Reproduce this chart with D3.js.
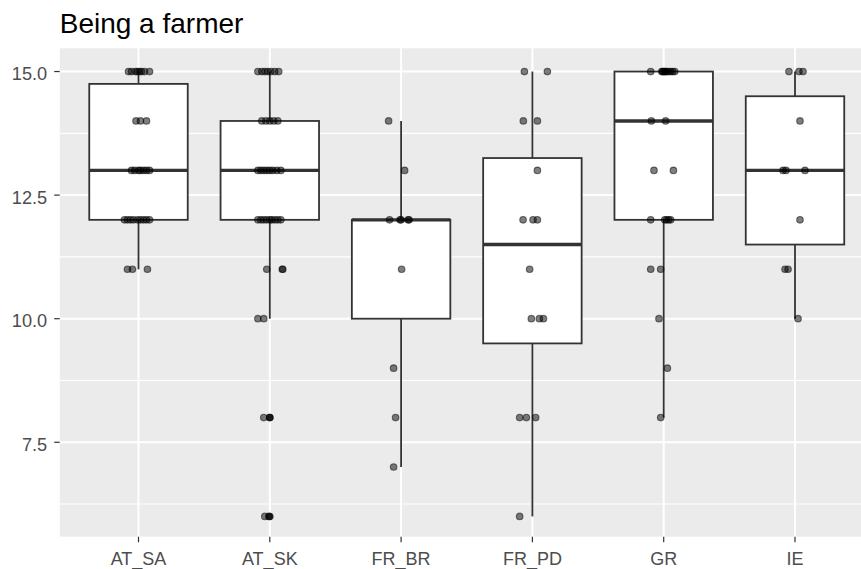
<!DOCTYPE html>
<html>
<head>
<meta charset="utf-8">
<script src="https://cdn.jsdelivr.net/npm/d3@7"></script>
<style>
  html, body { margin: 0; padding: 0; background: #ffffff; }
  svg { display: block; }
  text { font-family: "Liberation Sans", Arial, sans-serif; }
</style>
</head>
<body>
<script>
// ---------------- data ----------------
const title = "Being a farmer";
const categories = ["AT_SA", "AT_SK", "FR_BR", "FR_PD", "GR", "IE"];
const yTicks = [7.5, 10, 12.5, 15];
const yTickLabels = ["7.5", "10.0", "12.5", "15.0"];
const yMinorTicks = [6.25, 8.75, 11.25, 13.75];

// boxplot statistics (per category)
const boxQ1 = [12, 12, 10, 9.5, 12, 11.5];
const boxMedian = [13, 13, 12, 11.5, 14, 13];
const boxQ3 = [14.75, 14, 12, 13.25, 15, 14.5];
const whiskerLow = [11, 10, 7, 6, 8, 10];
const whiskerHigh = [15, 15, 14, 15, 15, 15];

// boxplot outliers
const outlierGroup = ["AT_SK", "AT_SK"];
const outlierValue = [8, 6];

// individual scores and their horizontal jitter (in category units)
const scoresAT_SA = [15,15,15,15,15,15,15,15, 14,14,14, 13,13,13,13,13,13,13, 12,12,12,12,12,12,12,12,12, 11,11,11];
const jitterAT_SA = [-0.076,-0.053,-0.023,-0.008,0.008,0.023,0.046,0.084, -0.019,0.015,0.061, -0.053,-0.030,0,0.015,0.038,0.061,0.084, -0.107,-0.084,-0.061,-0.038,-0.008,0.015,0.038,0.061,0.084, -0.084,-0.046,0.068];

const scoresAT_SK = [15,15,15,15,15,15,15, 14,14,14,14,14, 13,13,13,13,13,13,13,13, 12,12,12,12,12,12,12,12,12, 11,11,11, 10,10, 8,8, 6,6];
const jitterAT_SK = [-0.091,-0.061,-0.038,-0.015,0.008,0.038,0.068, -0.061,-0.030,0,0.030,0.061, -0.091,-0.068,-0.046,-0.023,0,0.023,0.053,0.084, -0.091,-0.068,-0.046,-0.023,0,0.015,0.038,0.061,0.084, -0.023,0.095,0.099, -0.091,-0.046, -0.046,0, -0.038,-0.008];

const scoresFR_BR = [14, 13, 12,12,12,12,12, 11, 9, 8, 7];
const jitterFR_BR = [-0.095, 0.027, -0.088,-0.008,0,0.053,0.061, 0.004, -0.057, -0.042, -0.057];

const scoresFR_PD = [15,15, 14,14, 13, 12,12,12, 11, 10,10,10, 8,8,8, 6];
const jitterFR_PD = [-0.061,0.114, -0.069,0.038, 0.038, -0.071,0.005,0.038, -0.021, -0.008,0.053,0.084, -0.097,-0.046,0.025, -0.097];

const scoresGR = [15,15,15,15,15,15,15,15,15,15,15, 14,14, 13,13, 12,12,12,12,12, 11,11, 10, 9, 8];
const jitterGR = [-0.099,-0.015,-0.008,0,0.008,0.015,0.023,0.038,0.053,0.068,0.084, -0.094,0.015, -0.074,0.074, -0.099,0.008,0.023,0.038,0.053, -0.099,-0.023, -0.036, 0.028, -0.023];

const scoresIE = [15,15,15, 14, 13,13,13, 12, 11,11, 10];
const jitterIE = [-0.046,0.030,0.061, 0.038, -0.091,-0.069,0.076, 0.038, -0.076,-0.053, 0.023];

const groupScores = [scoresAT_SA, scoresAT_SK, scoresFR_BR, scoresFR_PD, scoresGR, scoresIE];
const groupJitter = [jitterAT_SA, jitterAT_SK, jitterFR_BR, jitterFR_PD, jitterGR, jitterIE];

// ---------------- chart ----------------
const W = 861, H = 569;
const svg = d3.select("body").append("svg").attr("width", W).attr("height", H);
svg.append("rect").attr("width", W).attr("height", H).attr("fill", "#ffffff");

const x = d3.scalePoint().domain(categories).range([138.5, 795]);
const step = x.step();
const y = d3.scaleLinear().domain([5.59, 15.47]).range([536.7, 48.3]);

const panelLeft = x(categories[0]) - 0.6 * step;
const panelRight = x(categories[categories.length - 1]) + 0.6 * step;
const panelTop = y.range()[1], panelBottom = y.range()[0];

// panel background
svg.append("rect")
  .attr("x", panelLeft).attr("y", panelTop)
  .attr("width", panelRight - panelLeft).attr("height", panelBottom - panelTop)
  .attr("fill", "#EBEBEB");

// gridlines
const grid = svg.append("g");
grid.selectAll(".minor").data(yMinorTicks).join("line")
  .attr("x1", panelLeft).attr("x2", panelRight)
  .attr("y1", d => y(d)).attr("y2", d => y(d))
  .attr("stroke", "#ffffff").attr("stroke-width", 1.1);
grid.selectAll(".majory").data(yTicks).join("line")
  .attr("x1", panelLeft).attr("x2", panelRight)
  .attr("y1", d => y(d)).attr("y2", d => y(d))
  .attr("stroke", "#ffffff").attr("stroke-width", 2);
grid.selectAll(".majorx").data(categories).join("line")
  .attr("x1", d => x(d)).attr("x2", d => x(d))
  .attr("y1", panelTop).attr("y2", panelBottom)
  .attr("stroke", "#ffffff").attr("stroke-width", 2);

// boxplots
const boxW = 0.75 * step;
const boxes = svg.append("g");
categories.forEach((c, i) => {
  const cx = x(c);
  const g = boxes.append("g");
  g.append("line").attr("x1", cx).attr("x2", cx)
    .attr("y1", y(boxQ3[i])).attr("y2", y(whiskerHigh[i]))
    .attr("stroke", "#333333").attr("stroke-width", 1.8);
  g.append("line").attr("x1", cx).attr("x2", cx)
    .attr("y1", y(boxQ1[i])).attr("y2", y(whiskerLow[i]))
    .attr("stroke", "#333333").attr("stroke-width", 1.8);
  g.append("rect")
    .attr("x", cx - boxW / 2).attr("y", y(boxQ3[i]))
    .attr("width", boxW).attr("height", y(boxQ1[i]) - y(boxQ3[i]))
    .attr("fill", "#ffffff").attr("stroke", "#333333").attr("stroke-width", 1.8);
  g.append("line")
    .attr("x1", cx - boxW / 2).attr("x2", cx + boxW / 2)
    .attr("y1", y(boxMedian[i])).attr("y2", y(boxMedian[i]))
    .attr("stroke", "#333333").attr("stroke-width", 3.4);
});

// outliers
svg.append("g").selectAll("circle").data(outlierValue).join("circle")
  .attr("cx", (d, i) => x(outlierGroup[i]))
  .attr("cy", d => y(d))
  .attr("r", 3.8)
  .attr("fill", "#333333");

// jittered points
const pts = [];
categories.forEach((c, i) => {
  groupScores[i].forEach((v, j) => pts.push({ c, v, j: groupJitter[i][j] }));
});
svg.append("g").selectAll("circle").data(pts).join("circle")
  .attr("cx", d => x(d.c) + d.j * step)
  .attr("cy", d => y(d.v))
  .attr("r", 3.3)
  .attr("fill", "#000000").attr("fill-opacity", 0.5)
  .attr("stroke", "#000000").attr("stroke-opacity", 0.5).attr("stroke-width", 1.1);

// axes
const axisColor = "#4D4D4D";
const yAx = svg.append("g");
yAx.selectAll("line").data(yTicks).join("line")
  .attr("x1", panelLeft - 5.5).attr("x2", panelLeft)
  .attr("y1", d => y(d)).attr("y2", d => y(d))
  .attr("stroke", "#333333").attr("stroke-width", 1.2);
yAx.selectAll("text").data(yTicks).join("text")
  .attr("x", panelLeft - 12.5).attr("y", d => y(d) + 8.5)
  .attr("text-anchor", "end").attr("font-size", 18.2).attr("fill", axisColor)
  .text((d, i) => yTickLabels[i]);

const xAx = svg.append("g");
xAx.selectAll("line").data(categories).join("line")
  .attr("x1", d => x(d)).attr("x2", d => x(d))
  .attr("y1", panelBottom).attr("y2", panelBottom + 5.5)
  .attr("stroke", "#333333").attr("stroke-width", 1.2);
xAx.selectAll("text").data(categories).join("text")
  .attr("x", d => x(d)).attr("y", 565)
  .attr("text-anchor", "middle").attr("font-size", 18).attr("fill", axisColor)
  .text(d => d);

// title
svg.append("text")
  .attr("x", panelLeft).attr("y", 33.3)
  .attr("font-size", 28).attr("fill", "#000000")
  .text(title);
</script>
</body>
</html>
